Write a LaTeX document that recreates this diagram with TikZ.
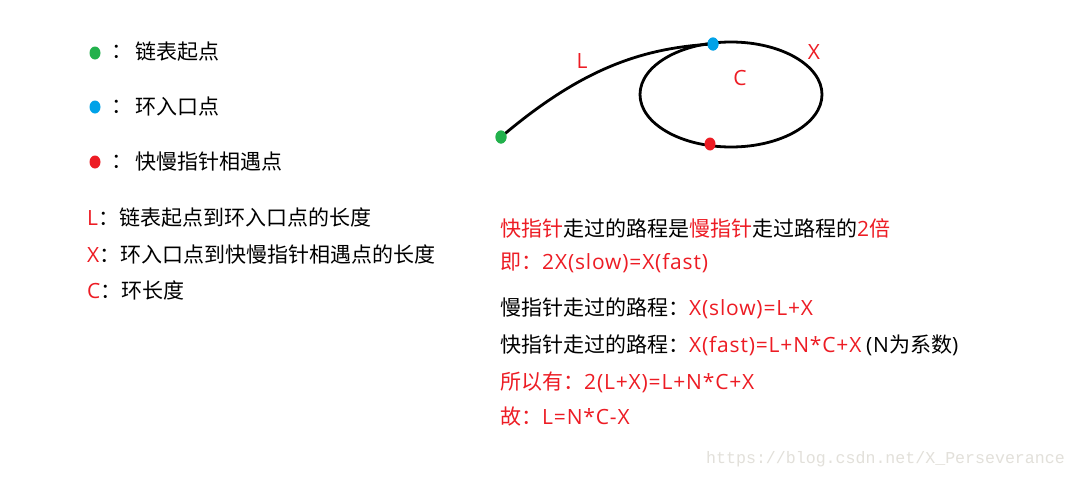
\documentclass[tikz,border=0pt]{standalone}
\usepackage{fontspec}
\setmainfont{Noto Sans CJK SC}
\newfontfamily\lat[LetterSpace=4]{Open Sans}
\newfontfamily\wmfont{Liberation Mono}
\usetikzlibrary{shapes.geometric}
\definecolor{rd}{HTML}{ED1C24}
\definecolor{gn}{HTML}{22B14C}
\definecolor{bl}{HTML}{00A2E8}
\definecolor{wmc}{HTML}{E2E0DA}
\begin{document}
\begin{tikzpicture}[x=1pt,y=-1pt,
  txt/.style={anchor=west,inner sep=0pt,font=\fontsize{21}{25}\selectfont},
  lbl/.style={inner sep=0pt,text=rd,font=\lat\fontsize{21}{25}\selectfont},
  dot/.style={ellipse,inner sep=0pt,minimum width=11pt,minimum height=13pt,draw=none,fill=#1},
  path/.style={line width=2.8pt,black}]
\useasboundingbox[fill=white] (0,0) rectangle (1078,479);

% legend
\node[dot=gn] (lg) at (95,53) {};
\node[txt] (lgc) at (111,52) {：};
\node[txt] (lgt) at (135,52) {链表起点};
\node[dot=bl] (lb) at (95,107) {};
\node[txt] (lbc) at (111,107) {：};
\node[txt] (lbt) at (135,107) {环入口点};
\node[dot=rd] (lr) at (95,162) {};
\node[txt] (lrc) at (111,162) {：};
\node[txt] (lrt) at (135,162) {快慢指针相遇点};

\node[txt] (dl) at (87,218) {\textcolor{rd}{\lat L}：链表起点到环入口点的长度};
\node[txt] (dx) at (87,255) {\textcolor{rd}{\lat X}：环入口点到快慢指针相遇点的长度};
\node[txt] (dc) at (87,290) {\textcolor{rd}{\lat C}：环长度};

% diagram
\draw[path] (731,94.5) ellipse [x radius=91pt, y radius=52.5pt];
\node[dot=gn] (g) at (501,137) {};
\node[dot=bl] (b) at (713,44) {};
\node[dot=rd] (r) at (710,144) {};
\draw[path] (g.center) .. controls (580,70) and (640,48) .. (b.center);
\node[dot=gn] at (g) {};
\node[dot=bl] at (b) {};
\node[lbl] (lL) at (582,61) {L};
\node[lbl] (lC) at (740,78) {C};
\node[lbl] (lX) at (814,52) {X};

% explanation
\node[txt] (e1) at (500,228) {\textcolor{rd}{快指针}走过的路程是\textcolor{rd}{慢指针}走过路程的\textcolor{rd}{{\lat 2}倍}};
\node[txt,text=rd] (e2) at (500,263) {即：{\lat 2X(slow)=X(fast)}};
\node[txt] (e3) at (500,308) {慢指针走过的路程：\textcolor{rd}{\lat X(slow)=L+X}};
\node[txt] (e4) at (500,345) {快指针走过的路程：\textcolor{rd}{\lat X(fast)=L+N*C+X} {\lat (N}为系数{\lat )}};
\node[txt,text=rd] (e5) at (500,382) {所以有：{\lat 2(L+X)=L+N*C+X}};
\node[txt,text=rd] (e6) at (500,417) {故：{\lat L=N*C-X}};

\node[anchor=west,inner sep=0pt,text=wmc,font=\wmfont\fontsize{16.6}{20}\selectfont] (wm) at (706,459) {https://blog.csdn.net/X\_Perseverance};
\end{tikzpicture}
\end{document}
